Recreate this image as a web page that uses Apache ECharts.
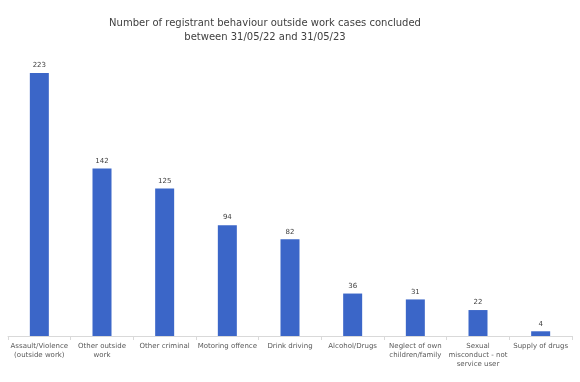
<!DOCTYPE html>
<html><head><meta charset="utf-8">
<script src="https://cdn.jsdelivr.net/npm/echarts@6/dist/echarts.min.js"></script>
<style>html,body{margin:0;padding:0;background:#fff}#c{width:580px;height:382px}</style>
</head><body><div id="c"></div>
<script>
const titleText = 'Number of registrant behaviour outside work cases concluded\nbetween 31/05/22 and 31/05/23';
const categories = ['Assault/Violence\n(outside work)', 'Other outside\nwork', 'Other criminal', 'Motoring offence', 'Drink driving', 'Alcohol/Drugs', 'Neglect of own\nchildren/family', 'Sexual\nmisconduct - not\nservice user', 'Supply of drugs'];
const values = [223, 142, 125, 94, 82, 36, 31, 22, 4];

const chart = echarts.init(document.getElementById('c'), null, {renderer: 'canvas'});
chart.setOption({
  animation: false,
  backgroundColor: '#ffffff',
  title: {
    text: titleText, left: 260, top: 11, textAlign: 'center',
    textStyle: {fontFamily: 'DejaVu Sans', fontSize: 10, fontWeight: 'normal', color: '#404040', lineHeight: 14}
  },
  grid: {left: 8, right: 8, top: 73, bottom: 46, containLabel: false},
  xAxis: {
    type: 'category', data: categories,
    axisLine: {lineStyle: {color: '#d9d9d9'}},
    axisTick: {show: true, length: 4, lineStyle: {color: '#d9d9d9'}},
    axisLabel: {interval: 0, fontFamily: 'DejaVu Sans', fontSize: 7, color: '#595959', lineHeight: 9, margin: 6}
  },
  yAxis: {type: 'value', min: 0, max: 223, show: false, splitLine: {show: false}},
  series: [{
    type: 'bar', data: values, barWidth: 19,
    itemStyle: {color: '#3b66c8'},
    label: {show: true, position: 'top', distance: 4, fontFamily: 'DejaVu Sans', fontSize: 7, color: '#404040'}
  }]
});
</script></body></html>
